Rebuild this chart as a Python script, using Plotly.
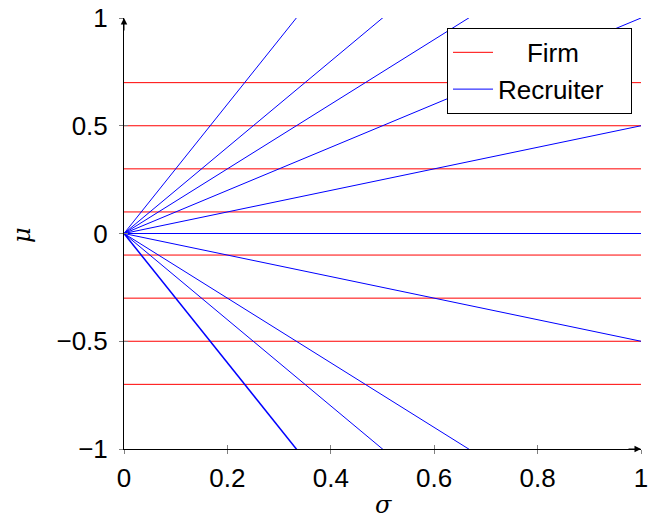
import plotly.graph_objects as go

# Data
firm_levels = [0.7, 0.5, 0.3, 0.1, -0.1, -0.3, -0.5, -0.7]
recruiter_slopes = [3, 2, 1.5, 1, 0.5, 0, -0.5, -1.5, -2, -3]
x_ticks = [0, 0.2, 0.4, 0.6, 0.8, 1]
x_tick_labels = ["0", "0.2", "0.4", "0.6", "0.8", "1"]
y_ticks = [-1, -0.5, 0, 0.5, 1]
y_tick_labels = ["\u22121", "\u22120.5", "0", "0.5", "1"]

FONT = "Liberation Sans"
FS = 26
NB = "\u00a0"
fig = go.Figure()

for i, lv in enumerate(firm_levels):
    fig.add_trace(go.Scatter(x=[0, 1], y=[lv, lv], mode="lines",
                             line=dict(color="rgb(255,0,0)", width=1),
                             name=NB * 4 + "Firm", legendgroup="firm", showlegend=(i == 0),
                             hoverinfo="skip"))

thick = {-3: 1.5}
for i, s in enumerate(recruiter_slopes):
    fig.add_trace(go.Scatter(x=[0, 1], y=[0, s], mode="lines",
                             line=dict(color="rgb(0,0,255)", width=thick.get(s, 1)),
                             name="Recruiter" + NB * 3, legendgroup="rec", showlegend=(i == 0),
                             hoverinfo="skip"))

# dummy trace to activate secondary axes (inside ticks)
fig.add_trace(go.Scatter(x=[None], y=[None], xaxis="x2", yaxis="y2", showlegend=False))

fig.update_layout(
    width=649, height=518,
    margin=dict(l=124, r=8, t=18, b=69),
    paper_bgcolor="white", plot_bgcolor="white",
    font=dict(family=FONT, size=FS, color="black"),
    xaxis=dict(range=[0, 1], tickvals=x_ticks, ticktext=x_tick_labels, automargin=False,
               showgrid=False, zeroline=False, showline=True, linecolor="black", linewidth=1,
               ticks="outside", ticklen=4, tickcolor="gray", tickwidth=1, ticklabelstandoff=2),
    yaxis=dict(range=[-1, 1], tickvals=y_ticks, ticktext=y_tick_labels, automargin=False,
               showgrid=False, zeroline=False, showline=True, linecolor="black", linewidth=1,
               ticks="outside", ticklen=4, tickcolor="gray", tickwidth=1, ticklabelstandoff=6),
    xaxis2=dict(range=[0, 1], overlaying="x", anchor="y", tickvals=x_ticks, showticklabels=False,
                automargin=False, showgrid=False, zeroline=False, ticks="inside", ticklen=4, tickcolor="gray"),
    yaxis2=dict(range=[-1, 1], overlaying="y", anchor="x", tickvals=y_ticks, showticklabels=False,
                automargin=False, showgrid=False, zeroline=False, ticks="inside", ticklen=4, tickcolor="gray"),
    legend=dict(x=0.9826, y=0.977, xanchor="right", yanchor="top",
                bordercolor="black", borderwidth=1, bgcolor="white",
                font=dict(family=FONT, size=FS), tracegroupgap=0, itemwidth=40),
    showlegend=True,
)

# axis titles (positions given in pixels, converted to paper coords)
fig.add_annotation(x=22, y=235, xref="paper", yref="paper", text="<i>μ</i>", showarrow=False,
                   textangle=-90, xanchor="center", yanchor="middle",
                   font=dict(family="DejaVu Serif", size=24))
fig.add_annotation(x=383, y=505, xref="paper", yref="paper", text="<i>σ</i>", showarrow=False,
                   xanchor="center", yanchor="middle", font=dict(family="DejaVu Serif", size=24))
for ann in fig.layout.annotations:
    px, py = ann.x, ann.y
    ann.x = (px - 124) / 517
    ann.y = (449 - py) / 431

# arrows at axis ends
fig.add_annotation(x=0, y=1, xref="x", yref="y", ax=0, ay=14,
                   showarrow=True, arrowhead=2, arrowsize=1.3, arrowwidth=1, arrowcolor="black", text="")
fig.add_annotation(x=1, y=-1, xref="x", yref="y", ax=-14, ay=0,
                   showarrow=True, arrowhead=2, arrowsize=1.3, arrowwidth=1, arrowcolor="black", text="")

fig.write_html("out.html", config={"displayModeBar": False},
               post_script="document.body.style.margin='0';document.body.style.overflow='hidden';")
